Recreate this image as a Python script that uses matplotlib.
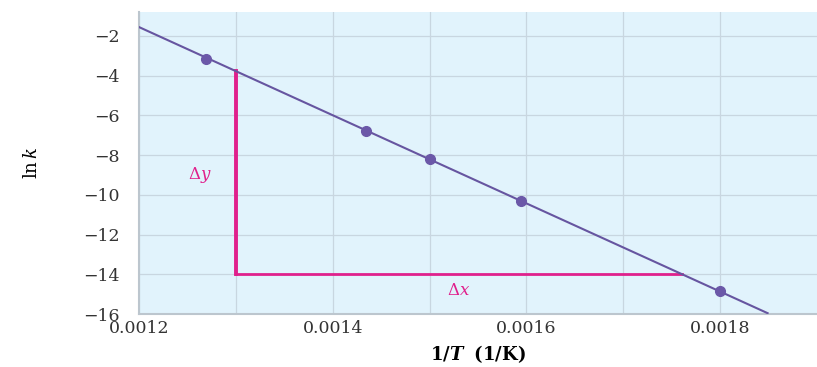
import matplotlib
matplotlib.use("Agg")
from matplotlib import pyplot as plt

# measured points (1/T, ln k)
inv_T = [0.001269, 0.001434, 0.001500, 0.001594, 0.001800]
ln_k = [-3.16, -6.78, -8.19, -10.31, -14.84]

# best-fit line end points
fit_x = [0.00120, 0.001849]
fit_y = [-1.55, -15.95]

# slope triangle
tri_x = [0.00130, 0.00130, 0.001761]
tri_y = [-3.77, -14.0, -14.0]

xticks = [0.0012, 0.0013, 0.0014, 0.0015, 0.0016, 0.0017, 0.0018]
xtick_labels = ["0.0012", "", "0.0014", "", "0.0016", "", "0.0018"]
yticks = [-2, -4, -6, -8, -10, -12, -14, -16]

plt.rcParams["font.family"] = ["DejaVu Serif"]
plt.rcParams["mathtext.fontset"] = "dejavuserif"

fig = plt.figure(figsize=[8.17, 3.67], dpi=100)
ax = fig.add_axes([0.170, 0.144, 0.83, 0.823])
ax.set_facecolor("#e1f3fc")

ax.set_xlim(0.0012, 0.00190)
ax.set_ylim(-16, -0.8)
ax.set_xticks(xticks)
ax.set_xticklabels(xtick_labels)
ax.set_yticks(yticks)
ax.set_yticklabels(["\u2212%d" % (-v) for v in yticks])
ax.grid(True, color="#c8d6e0", linewidth=0.9)
ax.set_axisbelow(True)
ax.tick_params(length=0, labelsize=12.5, colors="#333333")
ax.tick_params(axis="x", pad=4)
ax.tick_params(axis="y", pad=14)

for side in ["top", "right"]:
    ax.spines[side].set_visible(False)
for side in ["left", "bottom"]:
    ax.spines[side].set_color("#bcc6ce")
    ax.spines[side].set_linewidth(1.5)

ax.plot(tri_x[:2], tri_y[:2], color="#e0208c", linewidth=2.8, zorder=2)
ax.plot(tri_x[1:], tri_y[1:], color="#e0208c", linewidth=2.0, zorder=2)
ax.plot(fit_x, fit_y, color="#6655a0", linewidth=1.5, zorder=3)
ax.plot(inv_T, ln_k, "o", color="#6b58a8", markersize=7, zorder=4)

ax.text(0.001263, -9.0, r"$\Delta y$", color="#e0208c", fontsize=12, ha="center", va="center")
ax.text(0.00153, -14.8, r"$\Delta x$", color="#e0208c", fontsize=12, ha="center", va="center")

ax.set_xlabel(r"$\mathbf{1/}\boldsymbol{T}$  $\mathbf{(1/K)}$", fontsize=13, labelpad=5)
ax.set_ylabel(r"$\mathrm{ln}\,k$", fontsize=13, labelpad=30)

fig.savefig("out.png", dpi=100)
